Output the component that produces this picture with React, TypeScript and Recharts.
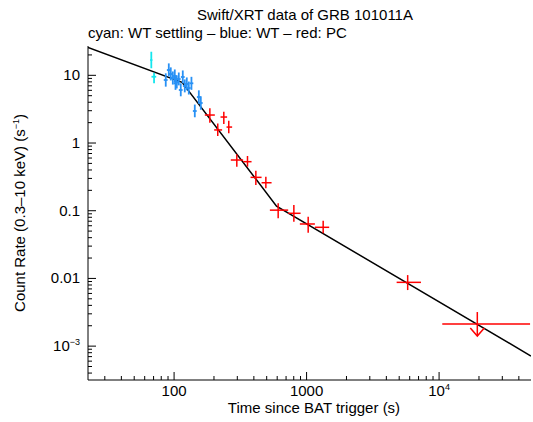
import React from 'react';
import { ComposedChart, XAxis, YAxis, Line, Scatter, ErrorBar } from 'recharts';

// WT settling (cyan)
const cyanTime = [67.3, 70.6];
const cyanTimeLo = [66.0, 67.5];
const cyanTimeHi = [68.6, 73.3];
const cyanRate = [16.8, 9.53];
const cyanRateLo = [12.7, 7.62];
const cyanRateHi = [22.3, 10.9];

// WT (blue)
const blueTime = [86.5, 91.2, 94.4, 97.8, 101.2, 102.5, 104.8, 108.5, 112.3, 116.3, 120.4, 124.7, 129.1, 135.2, 143.3, 153.7, 159.1];
const blueTimeLo = [83.6, 88.2, 91.3, 94.6, 97.9, 99.2, 101.4, 105.0, 108.6, 112.5, 116.5, 120.6, 124.9, 130.8, 138.6, 148.7, 153.9];
const blueTimeHi = [89.4, 94.2, 97.5, 101.0, 104.6, 105.9, 108.3, 112.1, 116.0, 120.2, 124.4, 128.8, 133.4, 139.7, 148.1, 158.8, 164.4];
const blueRate = [8.53, 11.97, 10.45, 9.12, 9.77, 7.6, 7.96, 8.82, 6.07, 9.44, 6.95, 7.44, 6.49, 7.62, 2.97, 4.78, 3.9];
const blueRateLo = [6.8, 9.6, 8.4, 7.3, 7.8, 6.1, 6.4, 7.1, 4.9, 7.6, 5.6, 6.0, 5.2, 6.1, 2.4, 3.8, 3.1];
const blueRateHi = [10.7, 15.0, 13.1, 11.4, 12.2, 9.5, 10.0, 11.0, 7.6, 11.8, 8.7, 9.3, 8.1, 9.5, 3.7, 6.0, 4.9];

// PC (red)
const redTime = [186.2, 213.6, 237.3, 258.6, 297.4, 358.1, 414.1, 492.7, 610.3, 801.6, 1028, 1334, 5794];
const redTimeLo = [170.6, 200.7, 224.1, 248.7, 267.9, 331.9, 377.6, 457.4, 528.3, 726.1, 889.6, 1155, 4782];
const redTimeHi = [203.0, 230.4, 251.3, 274.2, 331.9, 384.2, 457.4, 544.1, 726.1, 901.0, 1155, 1481, 7299];
const redRate = [2.59, 1.56, 2.42, 1.72, 0.561, 0.53, 0.311, 0.259, 0.102, 0.0916, 0.0637, 0.0569, 0.00875];
const redRateLo = [2.0, 1.27, 1.91, 1.39, 0.447, 0.447, 0.24, 0.214, 0.0773, 0.0689, 0.0473, 0.0463, 0.00673];
const redRateHi = [3.26, 1.95, 2.9, 2.13, 0.681, 0.643, 0.39, 0.318, 0.129, 0.121, 0.0815, 0.0711, 0.0112];

// PC upper limit
const limitTime = [19430];
const limitTimeLo = [10570];
const limitTimeHi = [48600];
const limitRate = [0.00212];

// broken power-law model
const modelTime = [22.4, 114.9, 593, 49400];
const modelRate = [25.9, 7.88, 0.117, 7.14e-4];

const xMajor = [100, 1000, 10000];
const xMajorLabels = ['100', '1000', '10^4'];
const yMajor = [0.001, 0.01, 0.1, 1, 10];
const yMajorLabels = ['10^−3', '0.01', '0.1', '1', '10'];

const xDomain = [22.4, 49400];
const yDomain = [3.16e-4, 27.1];

const font = '"Liberation Sans", Arial, Helvetica, sans-serif';
const fs = 15;

function minorTicks(lo: number, hi: number) {
  const out: number[] = [];
  for (let p = Math.floor(Math.log10(lo)); p <= Math.ceil(Math.log10(hi)); p++) {
    for (let m = 1; m < 10; m++) {
      const v = Number((m * Math.pow(10, p)).toPrecision(6));
      if (v >= lo && v <= hi) out.push(v);
    }
  }
  return out;
}

const xTicks = minorTicks(xDomain[0], xDomain[1]);
const yTicks = minorTicks(yDomain[0], yDomain[1]);

function build(t: number[], tLo: number[], tHi: number[], r: number[], rLo?: number[], rHi?: number[]) {
  return t.map((v, i) => ({
    t: v,
    r: r[i],
    tErr: [v - tLo[i], tHi[i] - v],
    rErr: rLo && rHi ? [r[i] - rLo[i], rHi[i] - r[i]] : [0, 0],
  }));
}

const cyanData = build(cyanTime, cyanTimeLo, cyanTimeHi, cyanRate, cyanRateLo, cyanRateHi);
const blueData = build(blueTime, blueTimeLo, blueTimeHi, blueRate, blueRateLo, blueRateHi);
const redData = build(redTime, redTimeLo, redTimeHi, redRate, redRateLo, redRateHi);
const limitData = build(limitTime, limitTimeLo, limitTimeHi, limitRate);
const modelData = modelTime.map((t, i) => ({ t, r: modelRate[i] }));

function label(s: string) {
  const [base, sup] = s.split('^');
  if (!sup) return s;
  return (
    <>
      {base}
      <tspan dy={-6} fontSize={9}>{sup}</tspan>
    </>
  );
}

const BottomTick = (props: any) => {
  const { x, y, payload } = props;
  const i = xMajor.indexOf(payload.value);
  return (
    <g>
      <line x1={x} x2={x} y1={y} y2={y - (i >= 0 ? 8 : 4)} stroke="#000" />
      {i >= 0 && (
        <text x={x} y={y + 16} textAnchor="middle" fontSize={fs} fontFamily={font} fill="#000">
          {label(xMajorLabels[i])}
        </text>
      )}
    </g>
  );
};

const TopTick = (props: any) => {
  const { x, y, payload } = props;
  const i = xMajor.indexOf(payload.value);
  return <line x1={x} x2={x} y1={y} y2={y + (i >= 0 ? 8 : 4)} stroke="#000" />;
};

const LeftTick = (props: any) => {
  const { x, y, payload } = props;
  const i = yMajor.indexOf(payload.value);
  return (
    <g>
      <line x1={x} x2={x + (i >= 0 ? 8 : 4)} y1={y} y2={y} stroke="#000" />
      {i >= 0 && (
        <text x={x - 8} y={y + 5} textAnchor="end" fontSize={fs} fontFamily={font} fill="#000">
          {label(yMajorLabels[i])}
        </text>
      )}
    </g>
  );
};

const RightTick = (props: any) => {
  const { x, y, payload } = props;
  const i = yMajor.indexOf(payload.value);
  return <line x1={x} x2={x - (i >= 0 ? 8 : 4)} y1={y} y2={y} stroke="#000" />;
};

const NoDot = () => <g />;

const ArrowDot = (props: any) => {
  const { cx, cy } = props;
  if (cx == null || cy == null) return <g />;
  return (
    <g stroke="#ff0000" strokeWidth={1.5} fill="none">
      <line x1={cx} x2={cx} y1={cy - 12} y2={cy + 12} />
      <polyline points={`${cx - 7},${cy + 4} ${cx},${cy + 12} ${cx + 7},${cy + 4}`} />
    </g>
  );
};

export default function App() {
  return (
    <div style={{ position: 'absolute', left: 0, top: 0, width: 533, height: 422, background: '#fff' }}>
      <ComposedChart width={533} height={422} margin={{ top: 46, right: 2, left: 0, bottom: 0 }}>
        <XAxis
          xAxisId="b"
          dataKey="t"
          type="number"
          scale="log"
          domain={xDomain}
          allowDataOverflow
          ticks={xTicks}
          interval={0}
          height={42}
          tickSize={0}
          tickMargin={0}
          tickLine={false}
          axisLine={{ stroke: '#000' }}
          tick={<BottomTick />}
        />
        <XAxis
          xAxisId="t"
          orientation="top"
          dataKey="t"
          type="number"
          scale="log"
          domain={xDomain}
          allowDataOverflow
          ticks={xTicks}
          interval={0}
          height={0}
          tickSize={0}
          tickMargin={0}
          tickLine={false}
          axisLine={{ stroke: '#000' }}
          tick={<TopTick />}
        />
        <YAxis
          yAxisId="l"
          dataKey="r"
          type="number"
          scale="log"
          domain={yDomain}
          allowDataOverflow
          ticks={yTicks}
          interval={0}
          width={88}
          tickSize={0}
          tickMargin={0}
          tickLine={false}
          axisLine={{ stroke: '#000' }}
          tick={<LeftTick />}
        />
        <YAxis
          yAxisId="r"
          orientation="right"
          dataKey="r"
          type="number"
          scale="log"
          domain={yDomain}
          allowDataOverflow
          ticks={yTicks}
          interval={0}
          width={0}
          tickSize={0}
          tickMargin={0}
          tickLine={false}
          axisLine={{ stroke: '#000' }}
          tick={<RightTick />}
        />
        <Line
          xAxisId="b"
          yAxisId="l"
          data={modelData}
          dataKey="r"
          type="linear"
          stroke="#000"
          strokeWidth={1.5}
          dot={false}
          isAnimationActive={false}
        />
        <Scatter xAxisId="b" yAxisId="l" data={cyanData} dataKey="r" shape={<NoDot />} isAnimationActive={false}>
          <ErrorBar dataKey="tErr" direction="x" width={0} stroke="#14e6ee" strokeWidth={1.8} isAnimationActive={false} />
          <ErrorBar dataKey="rErr" direction="y" width={0} stroke="#14e6ee" strokeWidth={1.8} isAnimationActive={false} />
        </Scatter>
        <Scatter xAxisId="b" yAxisId="l" data={blueData} dataKey="r" shape={<NoDot />} isAnimationActive={false}>
          <ErrorBar dataKey="tErr" direction="x" width={0} stroke="#2891f5" strokeWidth={1.8} isAnimationActive={false} />
          <ErrorBar dataKey="rErr" direction="y" width={0} stroke="#2891f5" strokeWidth={1.8} isAnimationActive={false} />
        </Scatter>
        <Scatter xAxisId="b" yAxisId="l" data={redData} dataKey="r" shape={<NoDot />} isAnimationActive={false}>
          <ErrorBar dataKey="tErr" direction="x" width={0} stroke="#ff0000" strokeWidth={1.5} isAnimationActive={false} />
          <ErrorBar dataKey="rErr" direction="y" width={0} stroke="#ff0000" strokeWidth={1.5} isAnimationActive={false} />
        </Scatter>
        <Scatter xAxisId="b" yAxisId="l" data={limitData} dataKey="r" shape={<ArrowDot />} isAnimationActive={false}>
          <ErrorBar dataKey="tErr" direction="x" width={0} stroke="#ff0000" strokeWidth={1.5} isAnimationActive={false} />
        </Scatter>
      </ComposedChart>
      <svg width={533} height={422} style={{ position: 'absolute', left: 0, top: 0, pointerEvents: 'none' }} fontFamily={font} fill="#000">
        <text x={305} y={20} textAnchor="middle" fontSize={fs}>Swift/XRT data of GRB 101011A</text>
        <text x={88} y={38} fontSize={fs}>cyan: WT settling – blue: WT – red: PC</text>
        <text x={314} y={413} textAnchor="middle" fontSize={fs}>Time since BAT trigger (s)</text>
        <text transform="translate(25,213) rotate(-90)" textAnchor="middle" fontSize={fs}>
          Count Rate (0.3–10 keV) (s<tspan dy={-6} fontSize={9}>−1</tspan><tspan dy={6}>)</tspan>
        </text>
      </svg>
    </div>
  );
}
